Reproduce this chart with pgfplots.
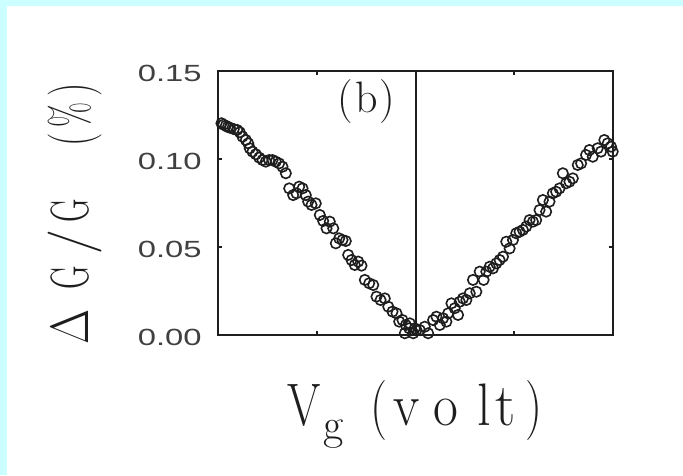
\documentclass[border=0pt]{standalone}
\usepackage{pgfplots}
\pgfplotsset{compat=1.18}
\usepackage{pgfplotstable}
\usepackage{graphicx}
\usepackage{fontspec}
\newfontfamily\tickfont{Liberation Sans}[FakeStretch=1.4]
\definecolor{framecyan}{RGB}{204,255,255}
\definecolor{ink}{RGB}{30,30,30}

% fixed-width slot so the label letters sit widely spaced
\newcommand\slot[2]{\makebox[#1][l]{#2}}
\newcommand\nar[2]{\scalebox{#1}[1]{#2}}

% gate-voltage sweep: V_g (volt) versus Delta G / G (%)
\pgfplotstableread{
x y
-1.965 0.1203
-1.945 0.1195
-1.921 0.1189
-1.900 0.1182
-1.880 0.1178
-1.840 0.1170
-1.806 0.1165
-1.779 0.1152
-1.752 0.1127
-1.718 0.1108
-1.694 0.1089
-1.678 0.1061
-1.651 0.1042
-1.617 0.1027
-1.583 0.1008
-1.549 0.0994
-1.516 0.0985
-1.482 0.0994
-1.448 0.0994
-1.415 0.0985
-1.381 0.0975
-1.347 0.0956
-1.313 0.0919
-1.279 0.0833
-1.239 0.0795
-1.205 0.0805
-1.178 0.0843
-1.144 0.0833
-1.111 0.0795
-1.087 0.0758
-1.053 0.0739
-1.010 0.0748
-0.969 0.0682
-0.935 0.0648
-0.901 0.0606
-0.868 0.0644
-0.833 0.0606
-0.807 0.0521
-0.773 0.0549
-0.739 0.0540
-0.706 0.0534
-0.682 0.0455
-0.648 0.0426
-0.615 0.0398
-0.580 0.0417
-0.547 0.0394
-0.513 0.0313
-0.469 0.0294
-0.428 0.0284
-0.395 0.0218
-0.354 0.0199
-0.311 0.0208
-0.276 0.0161
-0.233 0.0133
-0.192 0.0123
-0.165 0.0076
-0.132 0.0085
-0.108 0.0010
-0.098 0.0057
-0.064 0.0038
-0.057 0.0066
-0.023 0.0010
-0.007 0.0038
0.010 0.0028
0.044 0.0028
0.094 0.0047
0.128 0.0010
0.178 0.0085
0.212 0.0104
0.246 0.0057
0.279 0.0095
0.313 0.0076
0.330 0.0123
0.364 0.0180
0.397 0.0152
0.431 0.0114
0.448 0.0189
0.481 0.0208
0.515 0.0199
0.549 0.0237
0.582 0.0313
0.616 0.0246
0.650 0.0360
0.690 0.0313
0.717 0.0360
0.751 0.0388
0.785 0.0379
0.818 0.0407
0.852 0.0426
0.886 0.0445
0.919 0.0530
0.953 0.0492
0.987 0.0540
1.020 0.0578
1.054 0.0587
1.088 0.0597
1.121 0.0616
1.155 0.0653
1.189 0.0644
1.222 0.0653
1.256 0.0710
1.290 0.0767
1.323 0.0701
1.357 0.0758
1.391 0.0805
1.424 0.0814
1.458 0.0833
1.492 0.0919
1.525 0.0862
1.559 0.0871
1.593 0.0890
1.643 0.0966
1.677 0.0975
1.727 0.1023
1.761 0.1051
1.795 0.1013
1.845 0.1061
1.879 0.1042
1.912 0.1108
1.946 0.1089
1.980 0.1070
1.997 0.1042
}\sweep

\begin{document}
\begin{tikzpicture}
% page background with the cyan frame strips
\fill[framecyan] (0,0) rectangle (341.5pt,-237.5pt);
\fill[white] (3.5pt,-3pt) rectangle (341.5pt,-237.5pt);
\begin{axis}[
  at={(109pt,-167.5pt)}, anchor=south west,
  scale only axis, width=197.5pt, height=132pt,
  xmin=-2, xmax=2, ymin=0, ymax=0.15,
  clip=false,
  axis line style={ink, line width=1pt},
  xtick={-1,1}, xticklabels={{},{}},
  ytick={0,0.05,0.10,0.15},
  yticklabels={0.00,0.05,0.10,0.15},
  yticklabel style={font=\tickfont\fontsize{11.7}{12}\selectfont,
    anchor=east, inner sep=0pt, xshift=-8pt, yshift=-1pt, text=ink!85},
  tick align=inside, major tick length=2.2pt,
  tick style={ink, line width=0.8pt},
  xlabel={\fontsize{30}{32}\selectfont
    \slot{18pt}{\nar{0.8}{V}}%
    \slot{23.5pt}{\raisebox{-7pt}{\fontsize{22}{24}\selectfont g}}%
    \slot{11.5pt}{\nar{0.8}{(}}%
    \slot{20pt}{\nar{0.9}{v}}%
    \slot{22pt}{\nar{0.9}{o}}%
    \slot{9pt}{\nar{0.9}{l}}%
    \slot{15pt}{\nar{0.95}{t}}%
    \nar{0.8}{)}},
  xlabel style={at={(axis description cs:0.1747,-0.3409)}, anchor=base west,
    inner sep=0pt, text=ink},
  ylabel={\fontsize{27}{30}\selectfont
    \slot{27.5pt}{\nar{0.84}{Δ}}%
    \slot{17.5pt}{\nar{0.6}{G}}%
    \slot{16pt}{/}%
    \slot{38pt}{\nar{0.6}{G}}%
    \slot{9.5pt}{\nar{0.7}{(}}%
    \slot{15.5pt}{\nar{0.6}{\%}}%
    \nar{0.7}{)}},
  ylabel style={at={(axis description cs:-0.3291,-0.0379)}, anchor=base west,
    inner sep=0pt, text=ink},
]
  % zero-bias reference line
  \addplot[ink, line width=1pt] coordinates {(0,0) (0,0.15)};
  \addplot[only marks, mark=o, mark size=2.6pt,
    mark options={ink, line width=0.8pt}] table {\sweep};
  \node[font=\fontsize{22}{24}\selectfont, text=ink] at (axis cs:-0.496,0.1324)
    {(\kern1pt b\kern1pt)};
\end{axis}
\pgfresetboundingbox
\useasboundingbox (0,0) rectangle (341.5pt,-237.5pt);
\end{tikzpicture}
\end{document}
